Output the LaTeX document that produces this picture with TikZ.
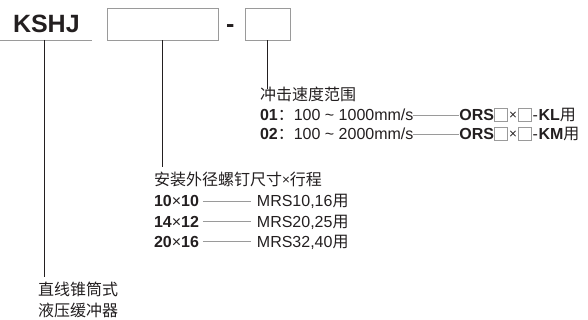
\documentclass[tikz,border=0pt]{standalone}
\usepackage{fontspec}
\setmainfont{Liberation Sans}
\newfontfamily\cjk{Noto Sans CJK SC}
\definecolor{ink}{HTML}{231F20}
\definecolor{rulegray}{HTML}{9A9A9A}
\newcommand\sqb{\tikz[baseline=0pt]\draw[rulegray,line width=0.6pt] (0pt,-0.3pt) rectangle (13pt,12.5pt);}
\newcommand\smx{\raisebox{1.2pt}{\fontsize{13.5}{15}\selectfont ×}}
\newcommand\gline[1]{\textcolor{rulegray}{\rule[5pt]{#1}{0.6pt}}}
\begin{document}
\begin{tikzpicture}[x=1pt,y=-1pt,
  txt/.style={anchor=base west,inner sep=0pt,outer sep=0pt,font=\fontsize{16}{19}\selectfont,text=ink},
  box/.style={draw=rulegray,line width=0.7pt},
  lead/.style={draw=ink,line width=0.8pt}]
\useasboundingbox (0,0) rectangle (588,320);
% title
\node[txt,font=\fontsize{25}{28}\selectfont\bfseries] (kshj) at (13,33) {KSHJ};
\coordinate (ulA) at (0,40);
\coordinate (ulB) at (92,40);
\draw[box] (ulA) -- (ulB);
\node[box,minimum width=111pt,minimum height=32pt,inner sep=0pt] (box1) at (162.5,24) {};
\node[box,minimum width=45pt,minimum height=32pt,inner sep=0pt] (box2) at (267.5,24) {};
\node[txt,font=\fontsize{25}{28}\selectfont\bfseries] (dash) at (226,33) {-};
% leaders
\coordinate (kTop) at (44.5,40);
\coordinate (kEnd) at (44.5,277);
\coordinate (b1End) at (162.5,167);
\coordinate (b2End) at (267.5,89);
\draw[lead] (kTop) -- (kEnd);
\draw[lead] (box1.south) -- (b1End);
\draw[lead] (box2.south) -- (b2End);
% group 1
\node[txt] (g1t) at (260,101) {\cjk 冲击速度范围};
\node[txt] (g1a) at (260,121) {\textbf{01}{\cjk ：}100 \char"007E{} 1000mm/s\gline{46pt}\textbf{ORS}\sqb\hspace{1.5pt}\smx\hspace{1pt}\sqb\hspace{1pt}-\hspace{0.5pt}\textbf{KL}{\cjk 用}};
\node[txt] (g1b) at (260,140) {\textbf{02}{\cjk ：}100 \char"007E{} 2000mm/s\gline{46pt}\textbf{ORS}\sqb\hspace{1.5pt}\smx\hspace{1pt}\sqb\hspace{1pt}-\hspace{0.5pt}\textbf{KM}{\cjk 用}};
% group 2
\node[txt] (g2t) at (154,186) {{\cjk 安装外径螺钉尺寸}\smx{\cjk 行程}};
\node[txt] (g2a) at (154,207) {\textbf{10}×\textbf{10}\hspace{4pt}\gline{48pt}\hspace{6pt}MRS10,16{\cjk 用}};
\node[txt] (g2b) at (154,227) {\textbf{14}×\textbf{12}\hspace{4pt}\gline{48pt}\hspace{6pt}MRS20,25{\cjk 用}};
\node[txt] (g2c) at (154,247) {\textbf{20}×\textbf{16}\hspace{4pt}\gline{48pt}\hspace{6pt}MRS32,40{\cjk 用}};
% bottom
\node[txt] (g3a) at (38,295) {\cjk 直线锥筒式};
\node[txt] (g3b) at (38,316) {\cjk 液压缓冲器};
\end{tikzpicture}
\end{document}
